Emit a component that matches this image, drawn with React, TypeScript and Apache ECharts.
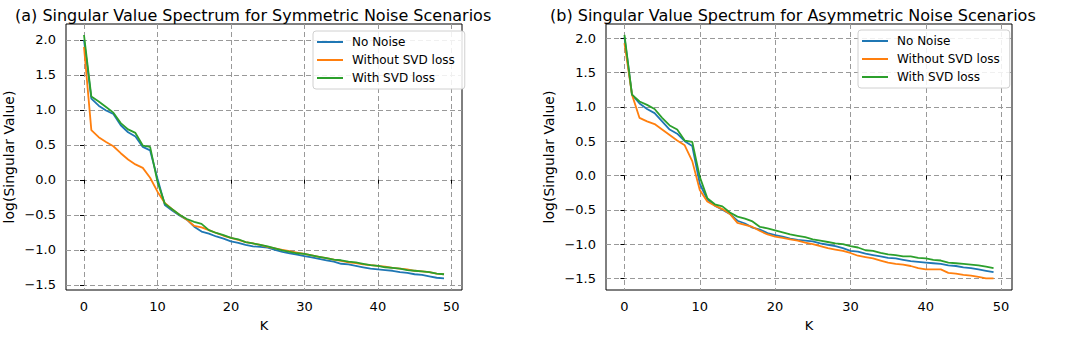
import React, { useEffect, useRef } from "react";
import * as echarts from "echarts";

const K: number[] = Array.from({ length: 50 }, (_, i) => i);

const xTicks = [0, 10, 20, 30, 40, 50];
const yTicks = [-1.5, -1.0, -0.5, 0.0, 0.5, 1.0, 1.5, 2.0];

const seriesNames = ["No Noise", "Without SVD loss", "With SVD loss"];
const colors = ["#1f77b4", "#ff7f0e", "#2ca02c"];

const titleA = "(a) Singular Value Spectrum for Symmetric Noise Scenarios";
const titleB = "(b) Singular Value Spectrum for Asymmetric Noise Scenarios";

const noNoiseA = [2.00, 1.16, 1.06, 0.99, 0.94, 0.78, 0.68, 0.62, 0.47, 0.42, 0.02, -0.36, -0.44, -0.51, -0.57, -0.67, -0.74, -0.77, -0.81, -0.84, -0.88, -0.90, -0.93, -0.95, -0.96, -0.97, -1.00, -1.03, -1.05, -1.07, -1.09, -1.11, -1.13, -1.15, -1.17, -1.20, -1.21, -1.23, -1.25, -1.27, -1.28, -1.29, -1.30, -1.32, -1.33, -1.35, -1.36, -1.38, -1.40, -1.41];
const withoutA = [1.90, 0.71, 0.61, 0.54, 0.48, 0.38, 0.29, 0.22, 0.17, 0.03, -0.17, -0.33, -0.42, -0.50, -0.57, -0.66, -0.68, -0.72, -0.76, -0.80, -0.83, -0.86, -0.89, -0.91, -0.93, -0.96, -0.98, -1.00, -1.02, -1.04, -1.06, -1.08, -1.10, -1.12, -1.14, -1.16, -1.18, -1.19, -1.21, -1.22, -1.23, -1.24, -1.26, -1.27, -1.28, -1.30, -1.31, -1.32, -1.34, -1.35];
const withA = [2.07, 1.19, 1.12, 1.04, 0.96, 0.81, 0.72, 0.67, 0.49, 0.47, -0.03, -0.34, -0.42, -0.50, -0.56, -0.60, -0.63, -0.72, -0.76, -0.79, -0.83, -0.85, -0.89, -0.91, -0.93, -0.95, -0.98, -1.01, -1.03, -1.05, -1.06, -1.08, -1.10, -1.12, -1.14, -1.15, -1.17, -1.18, -1.20, -1.22, -1.23, -1.25, -1.26, -1.27, -1.29, -1.30, -1.31, -1.32, -1.34, -1.35];

const noNoiseB = [2.02, 1.18, 1.05, 0.97, 0.91, 0.79, 0.67, 0.61, 0.50, 0.43, -0.12, -0.35, -0.44, -0.50, -0.56, -0.66, -0.70, -0.76, -0.79, -0.84, -0.87, -0.89, -0.92, -0.94, -0.95, -0.96, -0.99, -1.01, -1.03, -1.06, -1.10, -1.11, -1.14, -1.16, -1.18, -1.20, -1.21, -1.23, -1.25, -1.26, -1.27, -1.28, -1.29, -1.31, -1.32, -1.34, -1.35, -1.37, -1.39, -1.41];
const withoutB = [1.93, 1.18, 0.84, 0.79, 0.75, 0.67, 0.59, 0.51, 0.44, 0.21, -0.21, -0.38, -0.44, -0.49, -0.56, -0.69, -0.72, -0.75, -0.81, -0.86, -0.89, -0.91, -0.93, -0.95, -0.98, -1.00, -1.03, -1.06, -1.08, -1.10, -1.13, -1.17, -1.19, -1.21, -1.24, -1.27, -1.29, -1.30, -1.32, -1.35, -1.37, -1.37, -1.37, -1.42, -1.43, -1.45, -1.46, -1.48, -1.50, -1.50];
const withB = [2.05, 1.18, 1.08, 1.03, 0.97, 0.84, 0.73, 0.67, 0.51, 0.49, -0.02, -0.33, -0.42, -0.45, -0.54, -0.60, -0.63, -0.67, -0.75, -0.77, -0.80, -0.83, -0.86, -0.88, -0.90, -0.93, -0.95, -0.97, -0.99, -1.00, -1.03, -1.05, -1.09, -1.10, -1.13, -1.15, -1.16, -1.18, -1.18, -1.20, -1.21, -1.23, -1.24, -1.27, -1.28, -1.29, -1.30, -1.31, -1.33, -1.35];

const FONT = "DejaVu Sans";

const fmtY = (v: number) => (v < 0 ? "\u2212" + Math.abs(v).toFixed(1) : v.toFixed(1));

export default function App() {
  const ref = useRef<HTMLDivElement>(null);
  useEffect(() => {
    if (!ref.current) return;
    const chart = echarts.init(ref.current, undefined, { renderer: "svg" });

    const grids = [
      { left: 66, top: 24, width: 396, height: 269 },
      { left: 606, top: 24, width: 406, height: 271 },
    ];
    const yRanges = [
      [-1.575, 2.227],
      [-1.67, 2.21],
    ];

    const mkX = (gi: number) => ({
      type: "value",
      gridIndex: gi,
      min: -2.45,
      max: 51.45,
      name: "K",
      nameLocation: "middle",
      nameGap: 29,
      nameTextStyle: { fontFamily: FONT, fontSize: 13, color: "#000" },
      axisLine: { show: false },
      axisTick: { show: true, inside: false, length: 4, lineStyle: { color: "#000" }, customValues: xTicks },
      axisLabel: { customValues: xTicks, fontFamily: FONT, fontSize: 13, color: "#000", margin: 10, formatter: (v: number) => String(v) },
      splitLine: { show: true, lineStyle: { color: "#999", type: [5, 3], width: 1 } },
    });
    const mkY = (gi: number) => ({
      type: "value",
      gridIndex: gi,
      min: yRanges[gi][0],
      max: yRanges[gi][1],
      name: "log(Singular Value)",
      nameLocation: "middle",
      nameGap: 50,
      nameRotate: 90,
      nameTextStyle: { fontFamily: FONT, fontSize: 14, color: "#000" },
      axisLine: { show: false },
      axisTick: { show: true, inside: false, length: 4, lineStyle: { color: "#000" }, customValues: yTicks },
      axisLabel: { customValues: yTicks, fontFamily: FONT, fontSize: 13, color: "#000", margin: 10, formatter: fmtY },
      splitLine: { show: true, lineStyle: { color: "#999", type: [5, 3], width: 1 } },
    });

    const dataSets = [
      [noNoiseA, withoutA, withA],
      [noNoiseB, withoutB, withB],
    ];
    const series: any[] = [];
    dataSets.forEach((set, gi) => {
      set.forEach((arr, si) => {
        series.push({
          type: "line",
          name: seriesNames[si],
          xAxisIndex: gi,
          yAxisIndex: gi,
          data: K.map((k, i) => [k, arr[i]]),
          symbol: "none",
          showSymbol: false,
          lineStyle: { color: colors[si], width: 1.8 },
          itemStyle: { color: colors[si] },
          z: 3 + si,
        });
      });
    });

    const mkLegend = (left: number, top: number, width: number) => ({
      show: true,
      orient: "vertical",
      left,
      top,
      width,
      data: seriesNames,
      icon: "rect",
      itemWidth: 26,
      itemHeight: 2,
      itemGap: 4,
      padding: [4, 10, 4, 4],
      backgroundColor: "rgba(255,255,255,0.85)",
      borderColor: "#d0d0d0",
      borderWidth: 1,
      borderRadius: 3,
      textStyle: { fontFamily: FONT, fontSize: 12, color: "#000", lineHeight: 14, padding: [0, 0, 0, 4] },
      selectedMode: false,
    });

    chart.setOption({
      animation: false,
      backgroundColor: "#fff",
      title: [
        { text: titleA, left: 10, top: 2, textStyle: { fontFamily: FONT, fontSize: 16, fontWeight: "normal", color: "#000" } },
        { text: titleB, left: 545, top: 2, textStyle: { fontFamily: FONT, fontSize: 16, fontWeight: "normal", color: "#000" } },
      ],
      grid: grids.map((g) => ({ ...g, show: true, borderColor: "#000", borderWidth: 1, backgroundColor: "transparent" })),
      xAxis: [mkX(0), mkX(1)],
      yAxis: [mkY(0), mkY(1)],
      legend: [
        { ...mkLegend(313, 31, 140), },
        { ...mkLegend(858, 30, 148), },
      ],
      series,
    } as any);

    return () => chart.dispose();
  }, []);
  return <div ref={ref} style={{ position: "absolute", left: 0, top: 0, width: 1078, height: 337 }} />;
}
